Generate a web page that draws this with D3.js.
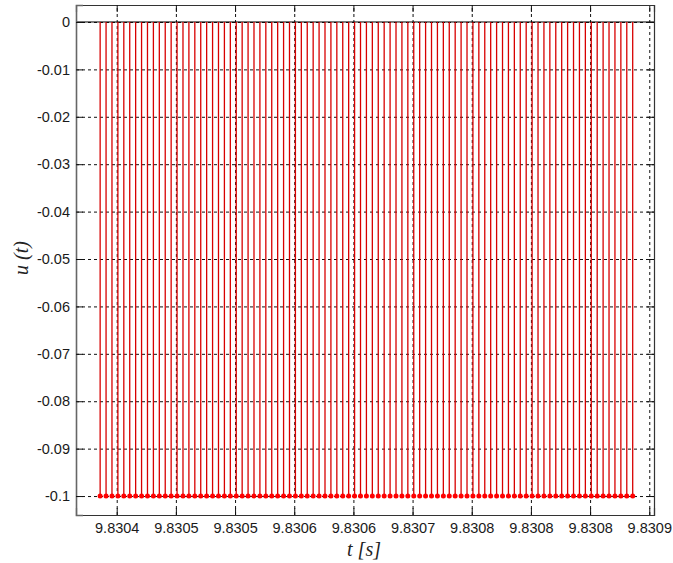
<!DOCTYPE html>
<html>
<head>
<meta charset="utf-8">
<script src="https://cdn.jsdelivr.net/npm/d3@7"></script>
<style>
  body { margin: 0; background: #fff; }
  text { font-family: "Liberation Sans", Arial, sans-serif; }
</style>
</head>
<body>
<script>
// sample times (s), one sample every 5 microseconds
const times = [
  9.830386, 9.830391, 9.830396, 9.830401, 9.830406, 9.830411, 9.830416, 9.830421, 9.830426, 9.830431,
  9.830436, 9.830441, 9.830446, 9.830451, 9.830456, 9.830461, 9.830466, 9.830471, 9.830476, 9.830481,
  9.830486, 9.830491, 9.830496, 9.830501, 9.830506, 9.830511, 9.830516, 9.830521, 9.830526, 9.830531,
  9.830536, 9.830541, 9.830546, 9.830551, 9.830556, 9.830561, 9.830566, 9.830571, 9.830576, 9.830581,
  9.830586, 9.830591, 9.830596, 9.830601, 9.830606, 9.830611, 9.830616, 9.830621, 9.830626, 9.830631,
  9.830636, 9.830641, 9.830646, 9.830651, 9.830656, 9.830661, 9.830666, 9.830671, 9.830676, 9.830681,
  9.830686, 9.830691, 9.830696, 9.830701, 9.830706, 9.830711, 9.830716, 9.830721, 9.830726, 9.830731,
  9.830736, 9.830741, 9.830746, 9.830751, 9.830756, 9.830761, 9.830766, 9.830771, 9.830776, 9.830781,
  9.830786, 9.830791, 9.830796, 9.830801, 9.830806, 9.830811, 9.830816, 9.830821, 9.830826, 9.830831,
  9.830836
];

// u(t) values, all samples sit at -0.1
const uValues = [
  -0.1, -0.1, -0.1, -0.1, -0.1, -0.1, -0.1, -0.1, -0.1, -0.1,
  -0.1, -0.1, -0.1, -0.1, -0.1, -0.1, -0.1, -0.1, -0.1, -0.1,
  -0.1, -0.1, -0.1, -0.1, -0.1, -0.1, -0.1, -0.1, -0.1, -0.1,
  -0.1, -0.1, -0.1, -0.1, -0.1, -0.1, -0.1, -0.1, -0.1, -0.1,
  -0.1, -0.1, -0.1, -0.1, -0.1, -0.1, -0.1, -0.1, -0.1, -0.1,
  -0.1, -0.1, -0.1, -0.1, -0.1, -0.1, -0.1, -0.1, -0.1, -0.1,
  -0.1, -0.1, -0.1, -0.1, -0.1, -0.1, -0.1, -0.1, -0.1, -0.1,
  -0.1, -0.1, -0.1, -0.1, -0.1, -0.1, -0.1, -0.1, -0.1, -0.1,
  -0.1, -0.1, -0.1, -0.1, -0.1, -0.1, -0.1, -0.1, -0.1, -0.1,
  -0.1
];

// x ticks and the (rounded) labels shown under them
const xTicks = [9.83040, 9.83045, 9.83050, 9.83055, 9.83060, 9.83065, 9.83070, 9.83075, 9.83080, 9.83085];
const xTickLabels = ["9.8304", "9.8305", "9.8305", "9.8306", "9.8306", "9.8307", "9.8308", "9.8308", "9.8308", "9.8309"];

const yTicks = [0, -0.01, -0.02, -0.03, -0.04, -0.05, -0.06, -0.07, -0.08, -0.09, -0.1];
const yTickLabels = ["0", "-0.01", "-0.02", "-0.03", "-0.04", "-0.05", "-0.06", "-0.07", "-0.08", "-0.09", "-0.1"];

// plot box in pixels
const margins = { left: 76, right: 19, top: 5, bottom: 48 };
const width = 673;
const height = 563;

const x = d3.scaleLinear()
    .domain([9.8303656, 9.8308540])
    .range([margins.left, width - margins.right]);

const y = d3.scaleLinear()
    .domain([-0.104, 0.00358])
    .range([height - margins.bottom, margins.top]);

const svg = d3.select("body")
    .append("svg")
    .attr("width", width)
    .attr("height", height)
    .style("background-color", "#ffffff");

const plotW = width - margins.left - margins.right;
const plotH = height - margins.top - margins.bottom;

// grid lines (dashed)
svg.append("g")
    .attr("transform", "translate(0," + (height - margins.bottom) + ")")
    .call(d3.axisBottom(x).tickValues(xTicks).tickSize(-plotH).tickFormat(""))
    .call(g => g.select(".domain").remove())
    .selectAll("line")
    .attr("stroke", "#111")
    .attr("stroke-dasharray", "3,3");

svg.append("g")
    .attr("transform", "translate(" + margins.left + ",0)")
    .call(d3.axisLeft(y).tickValues(yTicks).tickSize(-plotW).tickFormat(""))
    .call(g => g.select(".domain").remove())
    .selectAll("line")
    .attr("stroke", "#111")
    .attr("stroke-dasharray", "3,3");

// baseline at 0
svg.append("line")
    .attr("x1", margins.left)
    .attr("x2", width - margins.right)
    .attr("y1", y(0))
    .attr("y2", y(0))
    .attr("stroke", "#000")
    .attr("stroke-width", 1);

const data = times.map((t, i) => ({ t: t, u: uValues[i] }));

// stems
svg.append("g")
    .selectAll("line")
    .data(data)
    .enter()
    .append("line")
    .attr("x1", d => x(d.t))
    .attr("x2", d => x(d.t))
    .attr("y1", y(0))
    .attr("y2", d => y(d.u))
    .attr("stroke", "#d80000")
    .attr("stroke-width", 1.3);

// markers
svg.append("g")
    .selectAll("circle")
    .data(data)
    .enter()
    .append("circle")
    .attr("cx", d => x(d.t))
    .attr("cy", d => y(d.u))
    .attr("r", 2.5)
    .attr("fill", "#ff0000");

// axes with inward ticks
const bottomAxis = svg.append("g")
    .attr("transform", "translate(0," + (height - margins.bottom) + ")")
    .call(d3.axisBottom(x).tickValues(xTicks).tickSize(-7).tickPadding(8)
        .tickFormat((d, i) => xTickLabels[i]));

const topAxis = svg.append("g")
    .attr("transform", "translate(0," + margins.top + ")")
    .call(d3.axisTop(x).tickValues(xTicks).tickSize(-7).tickFormat(""));

const leftAxis = svg.append("g")
    .attr("transform", "translate(" + margins.left + ",0)")
    .call(d3.axisLeft(y).tickValues(yTicks).tickSize(-7).tickPadding(6)
        .tickFormat((d, i) => yTickLabels[i]));

const rightAxis = svg.append("g")
    .attr("transform", "translate(" + (width - margins.right) + ",0)")
    .call(d3.axisRight(y).tickValues(yTicks).tickSize(-7).tickFormat(""));

[bottomAxis, topAxis, leftAxis, rightAxis].forEach(g => {
    g.select(".domain").attr("stroke", "#333").attr("stroke-width", 1.2);
    g.selectAll(".tick line").attr("stroke", "#111");
    g.selectAll("text")
        .attr("fill", "#1a1a1a")
        .style("font-size", "14.5px")
        .style("font-family", "'Liberation Sans', Arial, sans-serif");
});
leftAxis.select(".domain").attr("stroke", "#666").attr("stroke-width", 1.6);

// axis titles
svg.append("text")
    .attr("x", 364)
    .attr("y", 556)
    .attr("text-anchor", "middle")
    .style("font-family", "'Liberation Serif', 'Times New Roman', serif")
    .style("font-style", "italic")
    .style("font-size", "20px")
    .attr("fill", "#222")
    .text("t [s]");

svg.append("text")
    .attr("transform", "translate(28," + 258 + ")rotate(-90)")
    .attr("text-anchor", "middle")
    .style("font-family", "'Liberation Serif', 'Times New Roman', serif")
    .style("font-style", "italic")
    .style("font-size", "20px")
    .attr("fill", "#222")
    .text("u (t)");
</script>
</body>
</html>
